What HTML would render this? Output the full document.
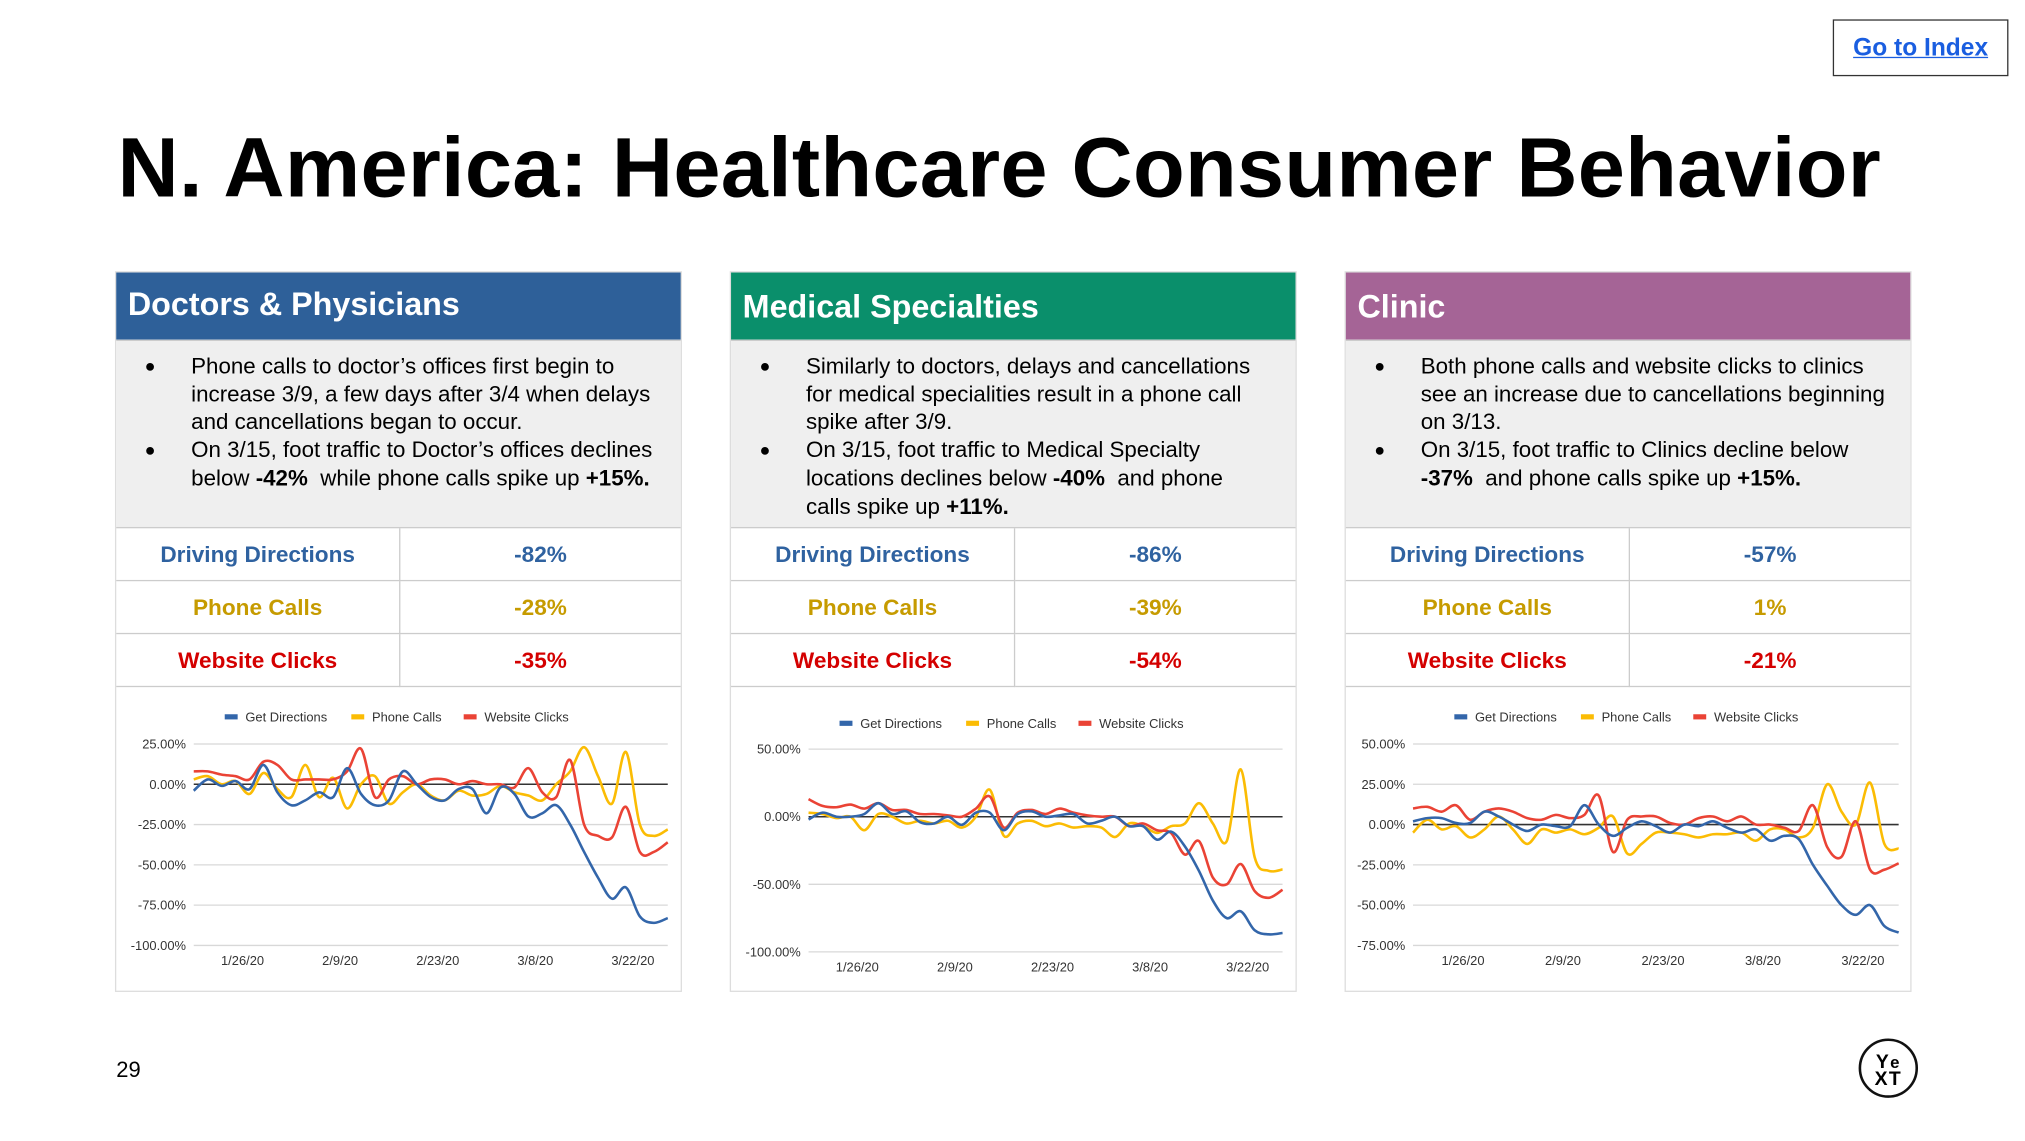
<!DOCTYPE html>
<html><head><meta charset="utf-8">
<style>
html,body{margin:0;padding:0;background:#fff;overflow:hidden}
#wrap{width:1570px;height:884px;position:relative;transform:scale(1.2916);transform-origin:0 0;font-family:"Liberation Sans",Arial,sans-serif;color:#000}
.abs{position:absolute}
.panel{position:absolute;top:210px;width:439px;height:558px;border:1px solid #ddd;box-sizing:border-box;background:#fff}
.hdr{height:52px;color:#fff;font-weight:bold;font-size:25px;line-height:50px;padding-left:9px}
.body{height:146px;background:#efefef;border-top:1px solid #ccc;border-bottom:1px solid #ccc;box-sizing:border-box;font-size:17.3px;line-height:21.7px;padding:9px 8px 0 20px}
.body.narrow{padding-right:24px}
.body ul{margin:0;padding:0;list-style:none}
.body li{position:relative;padding-left:38px}
.body li:before{content:"●";position:absolute;left:2px;font-size:14px}
table{border-collapse:collapse;width:100%}
td{height:40px;border-bottom:1px solid #ccc;text-align:center;font-weight:bold;font-size:17.5px;padding:0}
td:first-child{width:219px;border-right:1px solid #ccc}
.c1{color:#2f62a0}.c2{color:#c69b00}.c3{color:#d40000}
</style></head><body>
<div id="wrap">
<a class="abs" style="left:1419px;top:15px;width:136px;height:44px;border:1px solid #333;box-sizing:border-box;text-align:center;line-height:44px;color:#1a5ee0;font-weight:bold;font-size:19px;text-decoration:underline">Go to Index</a>
<div class="abs" style="left:91px;top:92px;font-size:65.6px;font-weight:bold;letter-spacing:0.2px;white-space:nowrap">N. America: Healthcare Consumer Behavior</div>

<div class="panel" style="left:89px">
<div class="hdr" style="background:#2e6099">Doctors &amp; Physicians</div>
<div class="body"><ul>
<li>Phone calls to doctor’s offices first begin to increase 3/9, a few days after 3/4 when delays and cancellations began to occur.</li>
<li>On 3/15, foot traffic to Doctor’s offices declines below <b>-42%</b>&nbsp; while phone calls spike up <b>+15%.</b></li></ul></div>
<table>
<tr><td class="c1">Driving Directions</td><td class="c1">-82%</td></tr>
<tr><td class="c2">Phone Calls</td><td class="c2">-28%</td></tr>
<tr><td class="c3">Website Clicks</td><td class="c3">-35%</td></tr></table>
</div>

<div class="panel" style="left:565px">
<div class="hdr" style="background:#0a8f6b;line-height:54px">Medical Specialties</div>
<div class="body narrow"><ul>
<li>Similarly to doctors, delays and cancellations for medical specialities result in a phone call spike after 3/9.</li>
<li>On 3/15, foot traffic to Medical Specialty locations declines below <b>-40%</b>&nbsp; and phone calls spike up <b>+11%.</b></li></ul></div>
<table>
<tr><td class="c1">Driving Directions</td><td class="c1">-86%</td></tr>
<tr><td class="c2">Phone Calls</td><td class="c2">-39%</td></tr>
<tr><td class="c3">Website Clicks</td><td class="c3">-54%</td></tr></table>
</div>

<div class="panel" style="left:1041px">
<div class="hdr" style="background:#a56496;line-height:54px">Clinic</div>
<div class="body"><ul>
<li>Both phone calls and website clicks to clinics see an increase due to cancellations beginning on 3/13.</li>
<li>On 3/15, foot traffic to Clinics decline below <b>-37%</b>&nbsp; and phone calls spike up <b>+15%.</b></li></ul></div>
<table>
<tr><td class="c1">Driving Directions</td><td class="c1">-57%</td></tr>
<tr><td class="c2">Phone Calls</td><td class="c2">1%</td></tr>
<tr><td class="c3">Website Clicks</td><td class="c3">-21%</td></tr></table>
</div>

<svg id="charts" class="abs" style="left:0;top:0" width="1570" height="884"></svg>

<div class="abs" style="left:90px;top:819px;font-size:17px">29</div>
<div class="abs" style="left:1439px;top:804px;width:46px;height:46px;border:2px solid #111;border-radius:50%;text-align:center;font-weight:bold;font-size:15px;line-height:13px;padding-top:10px;box-sizing:border-box;letter-spacing:1px">Y<span style="font-size:13px">e</span><br>XT</div>
</div>
<script>
const tickDates = ["1/26/20","2/9/20","2/23/20","3/8/20","3/22/20"];
const tickDays = [7,21,35,49,63];
const dayStep = 2;
const seriesNames = ["Get Directions","Phone Calls","Website Clicks"];
const dirA = [-4,3,-1,2,-3,12,-5,-13,-10,-5,-8,10,-6,-13,-10,8,0,-8,-10,-3,-3,-18,-2,-6,-20,-18,-13,-25,-42,-58,-71,-64,-82,-86,-83];
const phoneA = [3,5,0,2,-6,7,-3,-8,12,-8,4,-15,0,5,-12,-5,0,-7,-10,-4,-7,-6,-1,-5,-7,-10,0,8,23,5,-12,20,-25,-32,-28];
const webA = [8,8,6,5,3,14,12,3,3,3,3,8,22,-8,3,5,0,3,3,0,2,0,0,-2,10,-5,-8,15,-25,-32,-33,-14,-42,-42,-36];
const ticksA = [25,0,-25,-50,-75,-100];
const dirB = [-2,3,0,0,2,10,2,4,-4,-5,0,-6,3,3,-10,2,4,0,1,2,-5,-3,0,-7,-7,-17,-11,-22,-40,-62,-75,-70,-84,-87,-86];
const phoneB = [3,2,-1,0,-10,2,0,-5,-3,-5,-3,-8,0,20,-14,-5,-3,-7,-5,-8,-7,-8,-15,-5,-7,-12,-7,-5,10,-5,-18,35,-30,-40,-39];
const webB = [13,8,7,9,6,10,5,5,2,2,1,0,6,15,-8,3,5,2,6,3,1,0,0,-7,-5,-10,-12,-28,-18,-45,-50,-35,-55,-60,-54];
const ticksB = [50,0,-50,-100];
const dirC = [2,4,4,1,1,8,5,0,-4,0,-1,-1,12,0,-7,-2,2,-1,-5,0,-1,2,-2,-5,-3,-10,-7,-9,-25,-38,-50,-56,-50,-63,-67];
const phoneC = [-5,3,-3,-1,-8,-3,5,-3,-12,-3,-5,-3,-6,-2,5,-18,-12,-5,-5,-6,-8,-6,-6,-5,-10,-3,-3,-8,-2,25,8,0,26,-12,-15];
const webC = [10,11,8,12,3,8,10,8,4,3,6,4,6,18,-17,3,5,5,1,0,4,5,2,5,0,0,-2,-4,12,-14,-20,2,-28,-28,-24];
const ticksC = [50,25,0,-25,-50,-75];

const colors = ["#3366aa","#fbbc04","#ea4335"];
const NS = "http://www.w3.org/2000/svg";
const svg = document.getElementById("charts");
function mk(tag, attrs, parent){const e=document.createElementNS(NS,tag);for(const k in attrs)e.setAttribute(k,attrs[k]);(parent||svg).appendChild(e);return e;}

function chart(id, series, ticks, box){
  const g = mk("g",{});
  
  
  const maxV = ticks[0], minV = ticks[ticks.length-1], lastDay = (series[0].length-1)*dayStep;
  const xs = d => box.x0 + (box.x1-box.x0)*d/lastDay;
  const ys = v => box.y0 + (box.y1-box.y0)*(maxV-v)/(maxV-minV);
  ticks.forEach(t=>{
    const l = mk("line",{x1:box.x0,x2:box.x1,y1:ys(t),y2:ys(t),stroke:t===0?"#333":"#d8d8d8","stroke-width":t===0?1.2:1},g);
    
    
    const tx = mk("text",{x:box.x0-6,y:ys(t)+3.5,"text-anchor":"end","font-size":10,fill:"#333"},g);
    tx.textContent = t.toFixed(2)+"%";
    
    
  });
  tickDates.forEach((lab,i)=>{
    const tx = mk("text",{x:xs(tickDays[i]),y:box.y1+15,"text-anchor":"middle","font-size":10,fill:"#333"},g);
    tx.textContent = lab;
    
    
  });
  const lx = [box.lx, box.lx+98, box.lx+185];
  seriesNames.forEach((n,i)=>{
    const r = mk("rect",{x:lx[i],y:box.ly-2,width:10,height:4,fill:colors[i]},g);
    
    
    const tx = mk("text",{x:lx[i]+16,y:box.ly+3.5,"font-size":10,fill:"#333"},g);
    tx.textContent = n;
    
    
  });
  [1,2,0].forEach(si=>{
    const vals = series[si];
    const pts = vals.map((v,i)=>[xs(i*dayStep), ys(v)]);
    let d = "M"+pts[0][0]+","+pts[0][1];
    for(let i=0;i<pts.length-1;i++){
      const p0=pts[Math.max(0,i-1)],p1=pts[i],p2=pts[i+1],p3=pts[Math.min(pts.length-1,i+2)];
      const c1=[p1[0]+(p2[0]-p0[0])/6,p1[1]+(p2[1]-p0[1])/6];
      const c2=[p2[0]-(p3[0]-p1[0])/6,p2[1]-(p3[1]-p1[1])/6];
      d+=" C"+c1[0]+","+c1[1]+" "+c2[0]+","+c2[1]+" "+p2[0]+","+p2[1];
    }
    const p = mk("path",{d:d,fill:"none",stroke:colors[si],"stroke-width":2},g);
    
    
  });
}
chart("doctors-chart",[dirA,phoneA,webA],ticksA,{x0:150,x1:517,y0:576,y1:732,lx:174,ly:555});
chart("specialties-chart",[dirB,phoneB,webB],ticksB,{x0:626,x1:993,y0:580,y1:737,lx:650,ly:560});
chart("clinic-chart",[dirC,phoneC,webC],ticksC,{x0:1094,x1:1470,y0:576,y1:732,lx:1126,ly:555});
</script>
</body></html>
